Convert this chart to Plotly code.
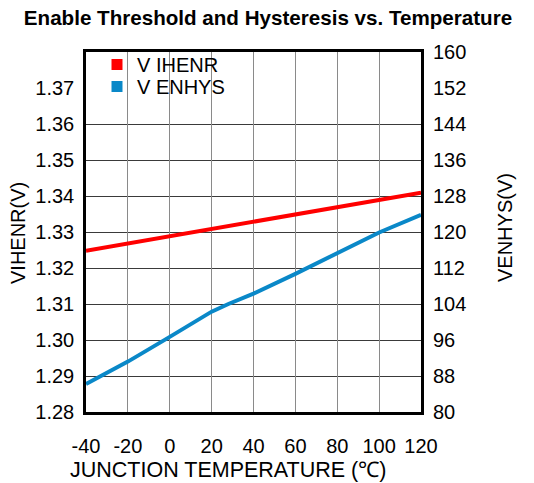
import plotly.graph_objects as go

# Data
temp_ihenr = [-40, -20, 0, 20, 40, 60, 80, 100, 120]
v_ihenr = [1.3248, 1.3268, 1.3288, 1.3308, 1.3329, 1.3349, 1.3369, 1.3389, 1.3409]

temp_enhys = [-40, -20, 0, 20, 28, 40, 60, 80, 100, 120]
v_enhys = [86.2, 91.2, 96.7, 102.3, 104.0, 106.3, 110.7, 115.4, 119.9, 123.8]

x_ticks = [-40, -20, 0, 20, 40, 60, 80, 100, 120]
x_labels = ["-40", "-20", "0", "20", "40", "60", "80", "100", "120"]
left_ticks = [1.28, 1.29, 1.30, 1.31, 1.32, 1.33, 1.34, 1.35, 1.36, 1.37]
left_labels = ["1.28", "1.29", "1.30", "1.31", "1.32", "1.33", "1.34", "1.35", "1.36", "1.37"]
left_grid = [1.29, 1.30, 1.31, 1.32, 1.33, 1.34, 1.35, 1.36]
right_ticks = [80, 88, 96, 104, 112, 120, 128, 136, 144, 152, 160]

RED = "#ff0000"
BLUE = "#0a88c8"
FONT = "Liberation Sans, Arial, sans-serif"

fig = go.Figure()
fig.add_trace(go.Scatter(x=temp_ihenr, y=v_ihenr, mode="lines",
                         line=dict(color=RED, width=4), showlegend=False, yaxis="y"))
fig.add_trace(go.Scatter(x=temp_enhys, y=v_enhys, mode="lines",
                         line=dict(color=BLUE, width=4), showlegend=False, yaxis="y2"))
# legend entries (square markers)
fig.add_trace(go.Scatter(x=[None], y=[None], mode="markers", name="V IHENR",
                         marker=dict(symbol="square", size=11, color=RED), legend="legend"))
fig.add_trace(go.Scatter(x=[None], y=[None], mode="markers", name="V ENHYS",
                         marker=dict(symbol="square", size=11, color=BLUE), legend="legend2"))

W, H = 534, 483
L, T = 86, 52
pw, ph = 335, 360
R, B = W - L - pw, H - T - ph

def pxx(px):
    return (px - L) / pw

def pxy(py):
    return (T + ph - py) / ph

fig.update_layout(
    width=W, height=H, autosize=False,
    margin=dict(l=L, r=R, t=T, b=B),
    paper_bgcolor="white", plot_bgcolor="white",
    font=dict(family=FONT, size=20, color="black"),
    title=dict(text="<b>Enable Threshold and Hysteresis vs. Temperature</b>",
               x=268 / W, xanchor="center", y=1 - 18 / H, yanchor="middle",
               font=dict(size=20.6, family=FONT, color="black")),
    xaxis=dict(range=[-40, 120], tickmode="array", tickvals=x_ticks, ticktext=x_labels,
               showgrid=True, gridcolor="#8a8a8a", gridwidth=1,
               showline=True, linecolor="black", linewidth=2.5, mirror=True,
               zeroline=False, ticks="", ticklabelstandoff=14, automargin=False,
               tickfont=dict(size=20)),
    yaxis=dict(range=[1.28, 1.38], tickmode="array", tickvals=left_ticks, ticktext=left_labels,
               showgrid=False, zeroline=False,
               showline=True, linecolor="black", linewidth=2.5, mirror=True,
               ticks="", ticklabelstandoff=5, automargin=False,
               minor=dict(tickmode="array", tickvals=left_grid, showgrid=True,
                          gridcolor="#3a3a3a", gridwidth=1),
               tickfont=dict(size=20)),
    yaxis2=dict(range=[80, 160], overlaying="y", side="right",
                tickmode="array", tickvals=right_ticks,
                showgrid=False, zeroline=False, showline=False, automargin=False,
                ticks="", ticklabelstandoff=11, tickfont=dict(size=20)),
    legend=dict(x=pxx(97), y=pxy(45), xanchor="left", yanchor="top",
                bgcolor="rgba(0,0,0,0)", borderwidth=0, font=dict(size=20, color="black")),
    legend2=dict(x=pxx(97), y=pxy(67), xanchor="left", yanchor="top",
                 bgcolor="rgba(0,0,0,0)", borderwidth=0, font=dict(size=20, color="black")),
    showlegend=True,
)

# white legend background patch: hides gridlines behind the legend, below the data
fig.add_shape(type="rect", xref="paper", yref="paper",
              x0=pxx(88), x1=pxx(240), y0=pxy(97), y1=pxy(53),
              fillcolor="white", line=dict(width=0), layer="between")

fig.add_annotation(text="JUNCTION TEMPERATURE (\u2103)", xref="paper", yref="paper",
                   x=pxx(228), y=pxy(470), xanchor="center",
                   yanchor="middle", showarrow=False, font=dict(size=21.5))
fig.add_annotation(text="VIHENR(V)", xref="paper", yref="paper",
                   x=pxx(18), y=pxy(233), xanchor="center",
                   yanchor="middle", textangle=-90, showarrow=False, font=dict(size=20))
fig.add_annotation(text="VENHYS(V)", xref="paper", yref="paper",
                   x=pxx(505), y=pxy(228), xanchor="center",
                   yanchor="middle", textangle=-90, showarrow=False, font=dict(size=20))

# remove the default 8px page margin so the figure fills the window exactly
fig.write_html("out.html", config={"displayModeBar": False},
               post_script="document.body.style.margin='0';")
